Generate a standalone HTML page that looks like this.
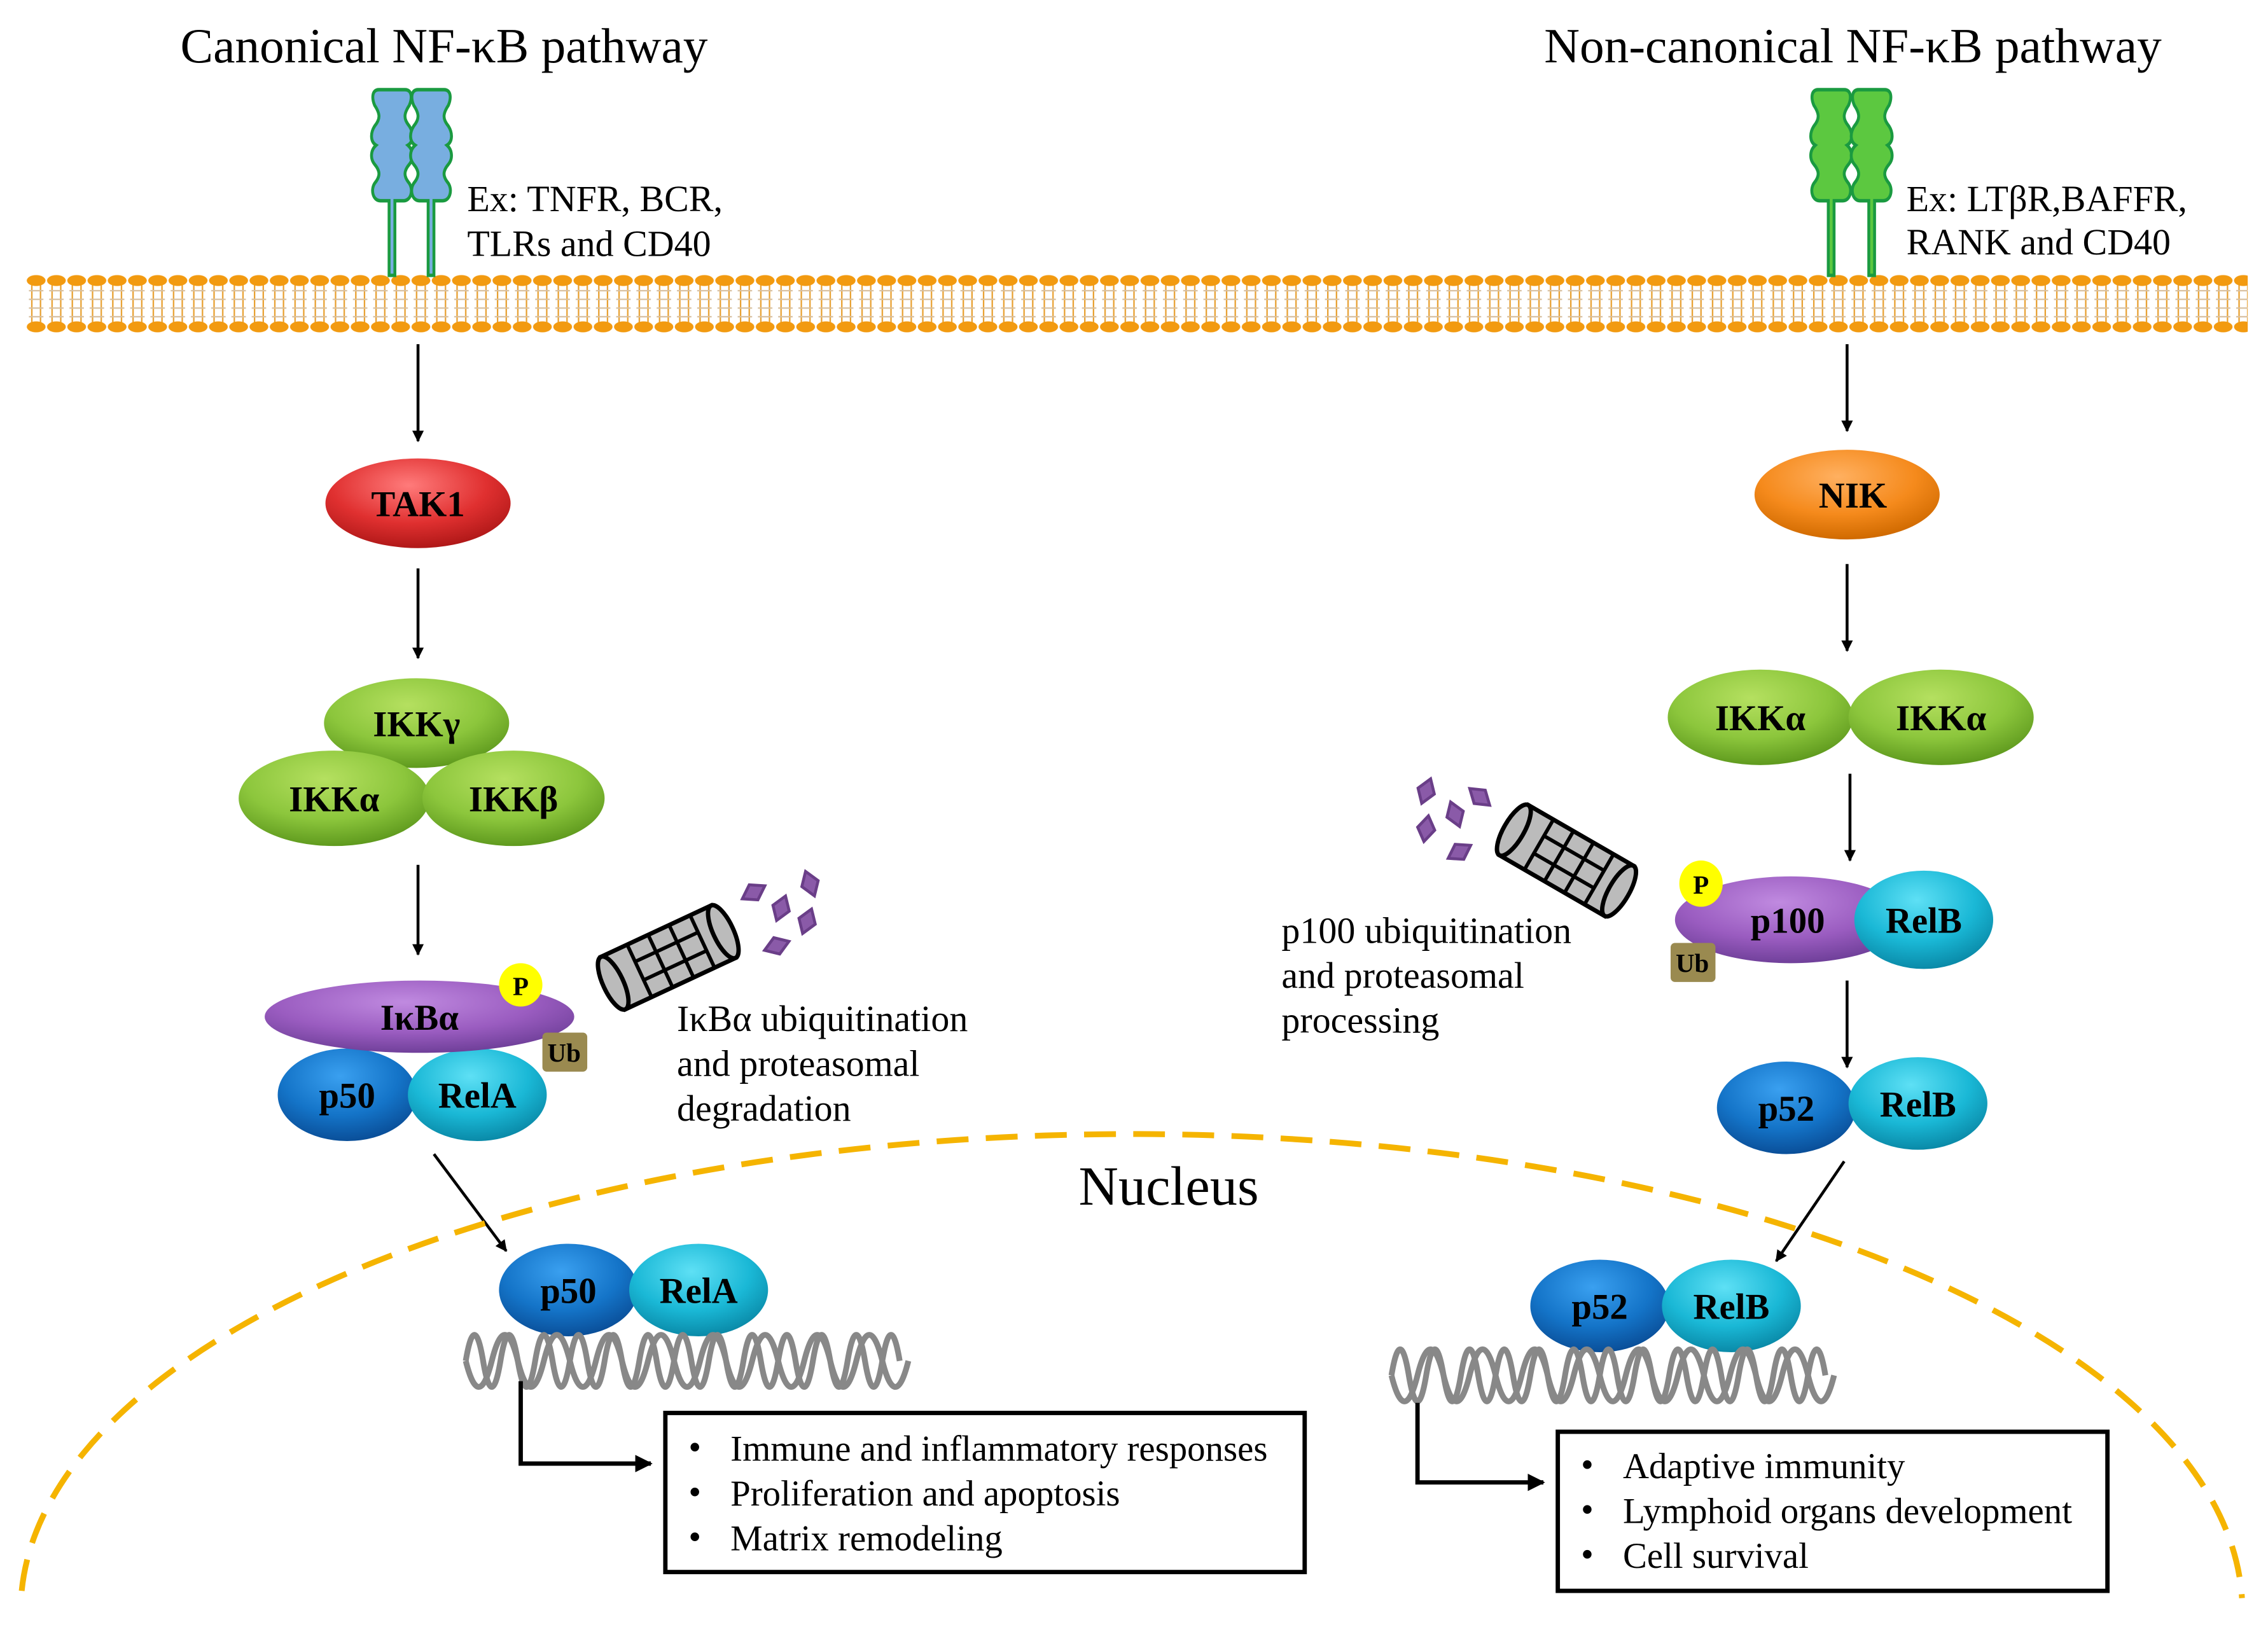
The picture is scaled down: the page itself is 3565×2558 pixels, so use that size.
<!DOCTYPE html>
<html><head><meta charset="utf-8"><style>html,body{margin:0;padding:0;background:#fff}svg{display:block;font-family:"Liberation Serif",serif}</style></head>
<body>
<svg width="3565" height="2558" viewBox="0 0 1568 1125" preserveAspectRatio="none" xmlns="http://www.w3.org/2000/svg" style="font-family:'Liberation Serif',serif">
<defs>
<radialGradient id="gR" cx="45%" cy="30%" r="70%"><stop offset="0" stop-color="#ff7b7b"/><stop offset="0.6" stop-color="#e03030"/><stop offset="1" stop-color="#b01818"/></radialGradient>
<radialGradient id="gO" cx="45%" cy="30%" r="70%"><stop offset="0" stop-color="#ffb060"/><stop offset="0.6" stop-color="#f58a1c"/><stop offset="1" stop-color="#d06a00"/></radialGradient>
<radialGradient id="gG" cx="45%" cy="30%" r="70%"><stop offset="0" stop-color="#b5e060"/><stop offset="0.6" stop-color="#8cc63c"/><stop offset="1" stop-color="#5f9a1e"/></radialGradient>
<radialGradient id="gP" cx="45%" cy="30%" r="70%"><stop offset="0" stop-color="#c08ae0"/><stop offset="0.6" stop-color="#9a5cc0"/><stop offset="1" stop-color="#70409a"/></radialGradient>
<radialGradient id="gB" cx="45%" cy="30%" r="70%"><stop offset="0" stop-color="#3aa0f0"/><stop offset="0.6" stop-color="#1474c8"/><stop offset="1" stop-color="#0a4f99"/></radialGradient>
<radialGradient id="gC" cx="45%" cy="30%" r="70%"><stop offset="0" stop-color="#5ee0f5"/><stop offset="0.6" stop-color="#1ab8d6"/><stop offset="1" stop-color="#0a8aa8"/></radialGradient>
<pattern id="mem" x="18" y="185" width="14" height="50" patternUnits="userSpaceOnUse">
<g stroke="#e8a030" stroke-width="1">
<line x1="4" y1="12" x2="4" y2="38"/><line x1="10" y1="12" x2="10" y2="38"/>
<line x1="2" y1="16" x2="12" y2="16" stroke="#d8c0a0"/><line x1="2" y1="22" x2="12" y2="22" stroke="#d8c0a0"/><line x1="2" y1="28" x2="12" y2="28" stroke="#d8c0a0"/><line x1="2" y1="34" x2="12" y2="34" stroke="#d8c0a0"/>
</g>
<ellipse cx="7" cy="9" rx="6.5" ry="3.8" fill="#f29a10"/>
<ellipse cx="7" cy="41" rx="6.5" ry="3.8" fill="#f29a10"/>
</pattern>
<marker id="ar" viewBox="0 0 10 10" refX="9" refY="5" markerWidth="8" markerHeight="8" markerUnits="userSpaceOnUse" orient="auto"><path d="M0,0 L10,5 L0,10 z" fill="#000"/></marker>
<marker id="ar2" viewBox="0 0 10 10" refX="9" refY="5" markerWidth="12" markerHeight="12" markerUnits="userSpaceOnUse" orient="auto"><path d="M0,0 L10,5 L0,10 z" fill="#000"/></marker>
<g id="rec"><path d="M-9,0 C-14,0 -14,5 -12,9 C-8,14 -8,17 -12,21 C-15,25 -15,30 -11,32 C-15,35 -15,40 -12,43 C-8,47 -8,50 -12,54 C-15,58 -13,64 -8,64 L-2,64 L-2,107 L2,107 L2,64 L8,64 C13,64 15,58 12,54 C8,50 8,47 12,43 C15,40 15,35 11,32 C15,30 15,25 12,21 C8,17 8,14 12,9 C14,5 14,0 9,0 Z"/></g>
<g id="prot">
<rect x="-42" y="-20" width="84" height="40" fill="#bbb" stroke="#000" stroke-width="3"/>
<g stroke="#000" stroke-width="2.5"><line x1="-22" y1="-20" x2="-22" y2="20"/><line x1="-6" y1="-20" x2="-6" y2="20"/><line x1="10" y1="-20" x2="10" y2="20"/><line x1="26" y1="-20" x2="26" y2="20"/><line x1="-22" y1="-7" x2="26" y2="-7"/><line x1="-22" y1="7" x2="26" y2="7"/></g>
<ellipse cx="-42" cy="0" rx="7" ry="20" fill="#bbb" stroke="#000" stroke-width="3"/>
<ellipse cx="42" cy="0" rx="7" ry="20" fill="#bbb" stroke="#000" stroke-width="3"/>
</g>
<g id="frag" fill="#8a5aa8" stroke="#6a3e88" stroke-width="2"><path d="M0,-9 L6,0 L0,9 L-6,0 Z"/></g>
</defs>

<text x="307" y="43" font-size="34" text-anchor="middle">Canonical NF-κB pathway</text>
<text x="1281" y="43" font-size="34" text-anchor="middle">Non-canonical NF-κB pathway</text>

<rect x="18" y="185" width="1536" height="50" fill="url(#mem)"/>

<g fill="#78aee0" stroke="#1a9a40" stroke-width="2"><use href="#rec" transform="translate(271,62) scale(1,1.2)"/><use href="#rec" transform="translate(298,62) scale(1,1.2)"/></g>
<g fill="#5cc840" stroke="#1a9a40" stroke-width="2"><use href="#rec" transform="translate(1266,62) scale(1,1.2)"/><use href="#rec" transform="translate(1294,62) scale(1,1.2)"/></g>
<g font-size="25.5">
<text x="323" y="146">Ex: TNFR, BCR,</text>
<text x="323" y="177">TLRs and CD40</text>
<text x="1318" y="146">Ex: LTβR,BAFFR,</text>
<text x="1318" y="176">RANK and CD40</text>
</g>

<g stroke="#000" stroke-width="2" marker-end="url(#ar)">
<line x1="289" y1="238" x2="289" y2="305"/>
<line x1="289" y1="393" x2="289" y2="455"/>
<line x1="289" y1="598" x2="289" y2="660"/>
<line x1="300" y1="798" x2="350" y2="865"/>
<line x1="1277" y1="238" x2="1277" y2="298"/>
<line x1="1277" y1="390" x2="1277" y2="450"/>
<line x1="1279" y1="535" x2="1279" y2="595"/>
<line x1="1277" y1="678" x2="1277" y2="738"/>
<line x1="1275" y1="803" x2="1228" y2="872"/>
</g>

<path d="M15,1100 A768,330 0 0 1 1550,1105" fill="none" stroke="#f5b400" stroke-width="4" stroke-dasharray="22 12"/>
<text x="808" y="833" font-size="38" text-anchor="middle">Nucleus</text>

<g font-weight="bold" font-size="25" text-anchor="middle">
<ellipse cx="289" cy="348" rx="64" ry="31" fill="url(#gR)"/><text x="289" y="357">TAK1</text>
<ellipse cx="288" cy="500" rx="64" ry="31" fill="url(#gG)"/><text x="288" y="509">IKKγ</text>
<ellipse cx="231" cy="552" rx="66" ry="33" fill="url(#gG)"/><text x="231" y="561">IKKα</text>
<ellipse cx="355" cy="552" rx="63" ry="33" fill="url(#gG)"/><text x="355" y="561">IKKβ</text>
<ellipse cx="240" cy="757" rx="48" ry="32" fill="url(#gB)"/><text x="240" y="766">p50</text>
<ellipse cx="330" cy="757" rx="48" ry="32" fill="url(#gC)"/><text x="330" y="766">RelA</text>
<ellipse cx="290" cy="703" rx="107" ry="25" fill="url(#gP)"/><text x="290" y="712">IκBα</text>
<circle cx="360" cy="681" r="15" fill="#ffff00"/><text x="360" y="688" font-size="18">P</text>
<rect x="375" y="714" width="31" height="27" rx="3" fill="#9a8a50"/><text x="390" y="734" font-size="18">Ub</text>

<ellipse cx="393" cy="892" rx="48" ry="32" fill="url(#gB)"/><text x="393" y="901">p50</text>
<ellipse cx="483" cy="892" rx="48" ry="32" fill="url(#gC)"/><text x="483" y="901">RelA</text>

<ellipse cx="1277" cy="342" rx="64" ry="31" fill="url(#gO)"/><text x="1281" y="351">NIK</text>
<ellipse cx="1217" cy="496" rx="64" ry="33" fill="url(#gG)"/><text x="1217" y="505">IKKα</text>
<ellipse cx="1342" cy="496" rx="64" ry="33" fill="url(#gG)"/><text x="1342" y="505">IKKα</text>
<ellipse cx="1238" cy="636" rx="80" ry="30" fill="url(#gP)"/><text x="1236" y="645">p100</text>
<ellipse cx="1330" cy="636" rx="48" ry="34" fill="url(#gC)"/><text x="1330" y="645">RelB</text>
<ellipse cx="1176" cy="611" rx="15" ry="16" fill="#ffff00"/><text x="1176" y="618" font-size="18">P</text>
<rect x="1155" y="652" width="31" height="27" rx="3" fill="#9a8a50"/><text x="1170" y="672" font-size="18">Ub</text>
<ellipse cx="1235" cy="766" rx="48" ry="32" fill="url(#gB)"/><text x="1235" y="775">p52</text>
<ellipse cx="1326" cy="763" rx="48" ry="32" fill="url(#gC)"/><text x="1326" y="772">RelB</text>

<ellipse cx="1106" cy="903" rx="48" ry="32" fill="url(#gB)"/><text x="1106" y="912">p52</text>
<ellipse cx="1197" cy="903" rx="48" ry="32" fill="url(#gC)"/><text x="1197" y="912">RelB</text>
</g>

<use href="#prot" transform="translate(462,662) rotate(-25)"/>
<use href="#prot" transform="translate(1083,595) rotate(30)"/>
<use href="#frag" transform="translate(521,617) rotate(60)"/>
<use href="#frag" transform="translate(540,628) rotate(20)"/>
<use href="#frag" transform="translate(560,611) rotate(-20)"/>
<use href="#frag" transform="translate(558,637) rotate(20)"/>
<use href="#frag" transform="translate(537,654) rotate(70)"/>
<use href="#frag" transform="translate(986,547) rotate(20)"/>
<use href="#frag" transform="translate(1023,551) rotate(-50)"/>
<use href="#frag" transform="translate(1006,563) rotate(-20)"/>
<use href="#frag" transform="translate(986,573) rotate(10)"/>
<use href="#frag" transform="translate(1009,589) rotate(60)"/>

<g font-size="25.5">
<text x="468" y="713">IκBα ubiquitination</text>
<text x="468" y="744">and proteasomal</text>
<text x="468" y="775">degradation</text>
<text x="886" y="652">p100 ubiquitination</text>
<text x="886" y="683">and proteasomal</text>
<text x="886" y="714">processing</text>
</g>

<g fill="none" stroke="#888" stroke-width="4">
<path d="M322 941 q6 -36 12 0 t12 0 t12 0 t12 0 t12 0 t12 0 t12 0 t12 0 t12 0 t12 0 t12 0 t12 0 t12 0 t12 0 t12 0 t12 0 t12 0 t12 0 t12 0 t12 0 t12 0 t12 0 t12 0 t12 0 t12 0"/>
<path d="M322 941 q9 36 18 0 t18 0 t18 0 t18 0 t18 0 t18 0 t18 0 t18 0 t18 0 t18 0 t18 0 t18 0 t18 0 t18 0 t18 0 t18 0 t18 0"/>
<path d="M962 951 q6 -36 12 0 t12 0 t12 0 t12 0 t12 0 t12 0 t12 0 t12 0 t12 0 t12 0 t12 0 t12 0 t12 0 t12 0 t12 0 t12 0 t12 0 t12 0 t12 0 t12 0 t12 0 t12 0 t12 0 t12 0 t12 0"/>
<path d="M962 951 q9 36 18 0 t18 0 t18 0 t18 0 t18 0 t18 0 t18 0 t18 0 t18 0 t18 0 t18 0 t18 0 t18 0 t18 0 t18 0 t18 0 t18 0"/>
</g>

<g fill="none" stroke="#000" stroke-width="3" marker-end="url(#ar2)">
<path d="M360,955 L360,1012 L450,1012"/>
<path d="M980,970 L980,1025 L1067,1025"/>
</g>

<rect x="460" y="977" width="442" height="110" fill="#fff" stroke="#000" stroke-width="3"/>
<rect x="1077" y="990" width="380" height="110" fill="#fff" stroke="#000" stroke-width="3"/>
<g font-size="25">
<text x="476" y="1009">•</text><text x="505" y="1010">Immune and inflammatory responses</text>
<text x="476" y="1040">•</text><text x="505" y="1041">Proliferation and apoptosis</text>
<text x="476" y="1071">•</text><text x="505" y="1072">Matrix remodeling</text>
<text x="1093" y="1021">•</text><text x="1122" y="1022">Adaptive immunity</text>
<text x="1093" y="1052">•</text><text x="1122" y="1053">Lymphoid organs development</text>
<text x="1093" y="1083">•</text><text x="1122" y="1084">Cell survival</text>
</g>
</svg>
</body></html>
